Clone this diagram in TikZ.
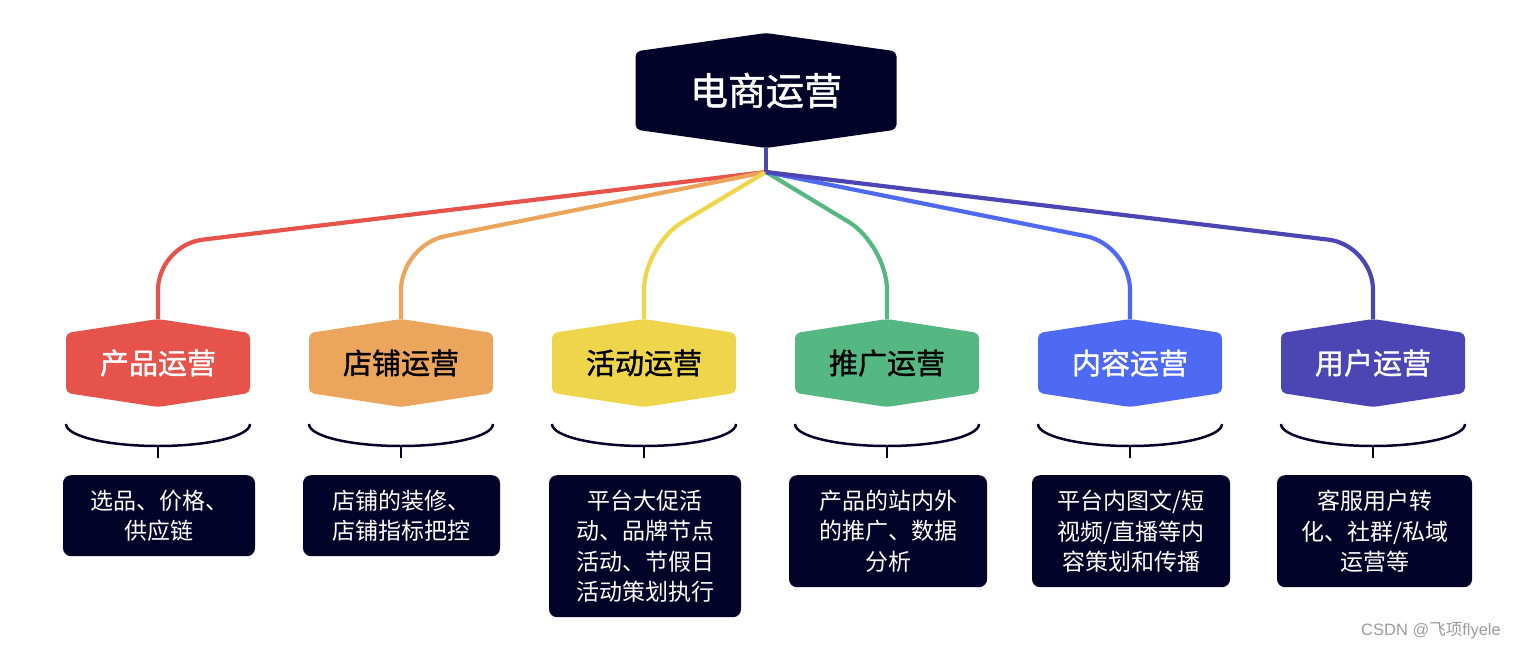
\documentclass[tikz,border=0pt]{standalone}
\usepackage{fontspec}
\setmainfont{Noto Sans CJK SC}
\newfontfamily\medfont{Noto Sans CJK SC}[FakeBold=1.2]
\newfontfamily\wmsans{Liberation Sans}
\usetikzlibrary{calc}
\definecolor{navy}{HTML}{03032A}
\definecolor{cred}{HTML}{E5534B}
\definecolor{corange}{HTML}{EBA55C}
\definecolor{cyellow}{HTML}{EFD54C}
\definecolor{cgreen}{HTML}{55B882}
\definecolor{cblue}{HTML}{4F6AF2}
\definecolor{cpurple}{HTML}{4B46B4}
\definecolor{wmgray}{HTML}{9C9C9C}
\tikzset{
  hexfill/.style={path picture={
    \fill[#1, rounded corners=5pt]
      (path picture bounding box.north)
      -- ($(path picture bounding box.north east)!0.16!(path picture bounding box.south east)$)
      -- ($(path picture bounding box.south east)!0.16!(path picture bounding box.north east)$)
      -- (path picture bounding box.south)
      -- ($(path picture bounding box.south west)!0.16!(path picture bounding box.north west)$)
      -- ($(path picture bounding box.north west)!0.16!(path picture bounding box.south west)$)
      -- cycle;}},
  cat/.style={hexfill=#1, minimum width=184pt, minimum height=88pt, inner sep=0pt,
    font=\medfont\fontsize{29}{34}\selectfont},
  desc/.style={fill=navy, rounded corners=8pt, text=white, align=center, anchor=north,
    inner sep=0pt, font=\fontsize{23}{30.5}\selectfont},
  conn/.style={line width=4.2pt, rounded corners=45pt},
  bracestyle/.style={draw=navy, line width=2.5pt},
}
\begin{document}
\begin{tikzpicture}[x=1pt,y=-1pt]
\useasboundingbox (0,0) rectangle (1514,650);
% root
\node[hexfill=navy, minimum width=261pt, minimum height=115pt, inner sep=0pt, text=white,
  font=\medfont\fontsize{38}{44}\selectfont] (r) at (766,90.5) {电商运营};
\coordinate (hub) at (766,172);
\coordinate (bend) at (0,245);
% categories
\node[cat=cred, text=white] (c1) at (158,363) {产品运营};
\node[cat=corange, text=black] (c2) at (401,363) {店铺运营};
\node[cat=cyellow, text=black] (c3) at (644,363) {活动运营};
\node[cat=cgreen, text=black] (c4) at (887,363) {推广运营};
\node[cat=cblue, text=white] (c5) at (1130,363) {内容运营};
\node[cat=cpurple, text=white] (c6) at (1373,363) {用户运营};
% connectors
\foreach \i/\c in {1/cred,2/corange,3/cyellow,4/cgreen,5/cblue,6/cpurple}
  \draw[conn, draw=\c] (hub) -- (c\i.north |- bend) -- (c\i.north);
\draw[line width=4.2pt, cpurple] (r.south) -- (hub);
% braces
\foreach \i in {1,...,6}{
  \draw[bracestyle] ($(c\i.center)+(-92,61)$) arc[start angle=180, end angle=0, x radius=92, y radius=22];
  \draw[bracestyle] ($(c\i.center)+(0,83)$) -- ($(c\i.center)+(0,95)$);
}
% descriptions
\node[desc, minimum width=192pt, minimum height=81pt] (d1) at (159,475) {选品、价格、\\供应链};
\node[desc, minimum width=197pt, minimum height=81pt] (d2) at (401.5,475) {店铺的装修、\\店铺指标把控};
\node[desc, minimum width=192pt, minimum height=142pt] (d3) at (645,475) {平台大促活\\动、品牌节点\\活动、节假日\\活动策划执行};
\node[desc, minimum width=198pt, minimum height=112pt] (d4) at (888,475) {产品的站内外\\的推广、数据\\分析};
\node[desc, minimum width=198pt, minimum height=112pt] (d5) at (1131,475) {平台内图文/短\\视频/直播等内\\容策划和传播};
\node[desc, minimum width=195pt, minimum height=112pt] (d6) at (1374.5,475) {客服用户转\\化、社群/私域\\运营等};
% watermark
\node[text=wmgray, font=\wmsans\fontsize{16.5}{18}\selectfont, anchor=east, inner sep=0pt]
  (wm) at (1501,631) {CSDN @{\rmfamily 飞项}flyele};
\end{tikzpicture}
\end{document}
